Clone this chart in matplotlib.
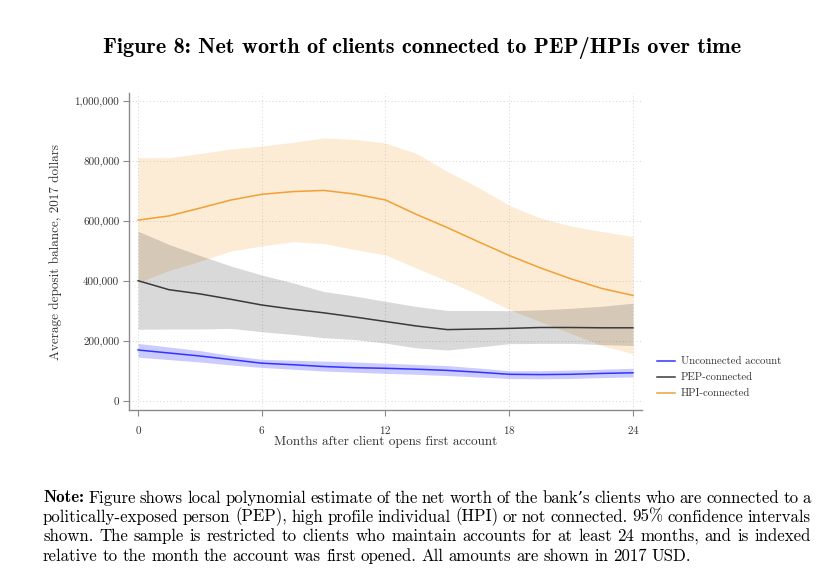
import numpy as np
import matplotlib
matplotlib.use("Agg")
import matplotlib.pyplot as plt
from matplotlib.ticker import FuncFormatter

plt.rcParams['font.family'] = ['cmr10', 'DejaVu Serif']
plt.rcParams['axes.formatter.use_mathtext'] = True

months = [0, 1.5, 3, 4.5, 6, 7.5, 9, 10.5, 12, 13.5, 15, 16.5, 18, 19.5, 21, 22.5, 24]

# values in thousands of 2017 dollars
unconn = [170, 160, 150, 138, 126, 121, 115, 111, 109, 106, 102, 96, 89, 88, 89, 92, 94]
unconn_hi = [192, 180, 168, 152, 139, 136, 133, 130, 126, 122, 118, 110, 101, 101, 103, 106, 109]
unconn_lo = [146, 138, 130, 120, 112, 106, 100, 96, 92, 89, 85, 80, 75, 74, 75, 78, 80]

pep = [401, 371, 357, 339, 320, 306, 294, 280, 265, 250, 238, 240, 242, 245, 245, 244, 244]
pep_hi = [566, 522, 485, 450, 420, 394, 365, 350, 332, 315, 302, 302, 301, 304, 309, 316, 326]
pep_lo = [239, 240, 240, 242, 231, 222, 211, 205, 193, 177, 170, 180, 191, 192, 192, 188, 185]

hpi = [603, 617, 643, 670, 689, 698, 702, 690, 670, 622, 578, 531, 485, 444, 407, 375, 352]
hpi_hi = [811, 811, 825, 840, 850, 862, 877, 872, 860, 825, 765, 712, 652, 610, 583, 565, 548]
hpi_lo = [395, 435, 466, 500, 517, 531, 525, 505, 487, 443, 400, 355, 305, 265, 225, 185, 157]

x_ticks = [0, 6, 12, 18, 24]
y_ticks = [0, 200000, 400000, 600000, 800000, 1000000]

title = "Figure 8: Net worth of clients connected to PEP/HPIs over time"
note_lines = [
    "Note: Figure shows local polynomial estimate of the net worth of the bank\u2019s clients who are connected to a",
    "politically-exposed person (PEP), high profile individual (HPI) or not connected. 95% confidence intervals",
    "shown.  The sample is restricted to clients who maintain accounts for at least 24 months, and is indexed",
    "relative to the month the account was first opened. All amounts are shown in 2017 USD.",
]

BLUE = '#3333ff'
GREY = '#3a3a3a'
ORANGE = '#f0a035'

fig = plt.figure(figsize=(8.34, 5.85), dpi=100)
ax = fig.add_axes([129 / 834, 1 - 410 / 585, (642 - 129) / 834, (410 - 93) / 585])

k = lambda v: np.array(v) * 1000

ax.fill_between(months, k(hpi_lo), k(hpi_hi), color=ORANGE, alpha=0.2, lw=0)
ax.fill_between(months, k(pep_lo), k(pep_hi), color='black', alpha=0.15, lw=0)
ax.fill_between(months, k(unconn_lo), k(unconn_hi), color=BLUE, alpha=0.25, lw=0)
ax.plot(months, k(unconn), color=BLUE, lw=1.1, label='Unconnected account')
ax.plot(months, k(pep), color=GREY, lw=1.1, label='PEP-connected')
ax.plot(months, k(hpi), color=ORANGE, lw=1.1, label='HPI-connected')

ax.set_xlim(-0.44, 24.44)
ax.set_ylim(-30000, 1026700)
ax.set_xticks(x_ticks)
ax.set_yticks(y_ticks)
ax.yaxis.set_major_formatter(FuncFormatter(lambda v, p: f"{int(v):,}"))
ax.grid(True, linestyle=(0, (1, 2.5)), color='#d4d4d4', lw=0.7)
ax.set_axisbelow(True)
for s in ['top', 'right']:
    ax.spines[s].set_visible(False)
for s in ['left', 'bottom']:
    ax.spines[s].set_color('#8a8a8a')
    ax.spines[s].set_linewidth(1.0)
ax.tick_params(colors='#8a8a8a', labelcolor='#333333', labelsize=8, length=4)
ax.tick_params(axis='x', pad=6)
ax.tick_params(axis='y', pad=3)
ax.set_xlabel("Months after client opens first account", fontsize=9.5, color='#333333', labelpad=0)
ax.set_ylabel("Average deposit balance, 2017 dollars", fontsize=9.5, color='#333333', labelpad=9)

ax.legend(loc='upper left', bbox_to_anchor=(647 / 834, 1 - 347 / 585), bbox_transform=fig.transFigure,
          frameon=False, fontsize=7.8, handlelength=1.7, handletextpad=0.5, labelspacing=0.6,
          labelcolor='#333333')

fig.text(0.506, 1 - 48 / 585, title, family=['cmb10', 'DejaVu Serif'], fontsize=16,
         ha='center', va='center')

# justified note text
fig.canvas.draw()
r = fig.canvas.get_renderer()
x0, x1 = 43 / 834, 811 / 834
ys = [498, 517, 536, 556]
for i, line in enumerate(note_lines):
    y = 1 - ys[i] / 585
    words = [w for w in line.split(' ') if w]
    arts = []
    for j, w in enumerate(words):
        fam = ['cmb10', 'DejaVu Serif'] if (i == 0 and j == 0) else ['cmr10', 'DejaVu Serif']
        t = fig.text(0, y, w, family=fam, fontsize=12.1, va='center', ha='left', color='black')
        arts.append(t)
    widths = [a.get_window_extent(r).width / fig.bbox.width for a in arts]
    if i < len(note_lines) - 1:
        gap = (x1 - x0 - sum(widths)) / (len(words) - 1)
    else:
        gap = 5.0 / 834
    xc = x0
    for a, w in zip(arts, widths):
        a.set_x(xc)
        xc += w + gap

fig.savefig('out.png', dpi=100)
